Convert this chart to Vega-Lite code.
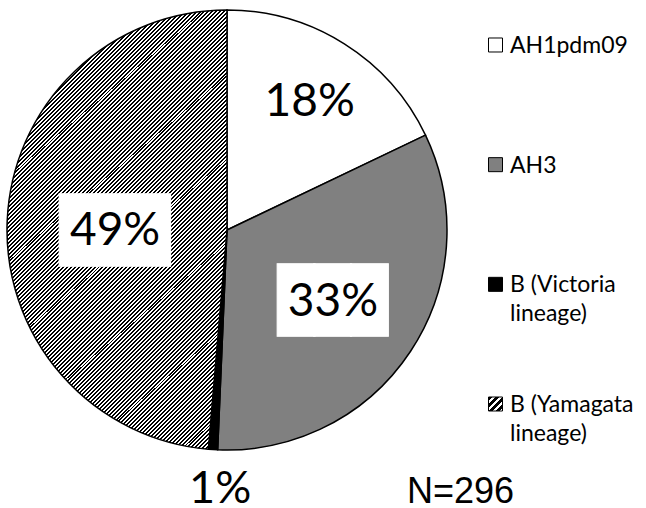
{
"$schema": "https://vega.github.io/schema/vega-lite/v6.json",
"padding": 0,
"background": "white",
"bounds": "flush",
"spacing": 0,
"config": {"view": {"stroke": null}},
"data": {"values": [
{"type": "AH1pdm09", "count": 53, "order": 1, "label": "18%", "legendLabel": "AH1pdm09"},
{"type": "AH3", "count": 97, "order": 2, "label": "33%", "legendLabel": "AH3"},
{"type": "B (Victoria lineage)", "count": 2, "order": 3, "label": "1%", "legendLabel": "B (Victoria\nlineage)"},
{"type": "B (Yamagata lineage)", "count": 144, "order": 4, "label": "49%", "legendLabel": "B (Yamagata\nlineage)"}
]},
"hconcat": [
{
"width": 454,
"height": 460,
"title": {"text": "N=296", "orient": "bottom", "anchor": "start", "frame": "group", "dx": 407, "offset": -9, "baseline": "alphabetic", "font": "Liberation Sans", "fontSize": 36, "fontWeight": "normal", "color": "black"},
"encoding": {
"theta": {"field": "count", "type": "quantitative", "stack": true},
"order": {"field": "order", "type": "quantitative"},
"detail": {"field": "type", "type": "nominal"}
},
"layer": [
{"mark": {"type": "arc", "outerRadius": 220, "stroke": "black", "strokeWidth": 1.5},
"encoding": {"fill": {"condition": [
{"test": "datum.type === 'AH1pdm09'", "value": "white"},
{"test": "datum.type === 'AH3'", "value": "#808080"},
{"test": "datum.type === 'B (Victoria lineage)'", "value": "black"}],
"value": {"gradient": "linear", "x1": 0, "y1": 0, "x2": 0.6, "y2": 1.2, "stops": [
{"offset":0,"color":"#000"},
{"offset":0.003,"color":"#000"},{"offset":0.003,"color":"#fff"},{"offset":0.006,"color":"#fff"},{"offset":0.006,"color":"#000"},{"offset":0.009,"color":"#000"},{"offset":0.009,"color":"#fff"},{"offset":0.012,"color":"#fff"},{"offset":0.012,"color":"#000"},{"offset":0.015,"color":"#000"},{"offset":0.015,"color":"#fff"},{"offset":0.018,"color":"#fff"},{"offset":0.018,"color":"#000"},{"offset":0.021,"color":"#000"},{"offset":0.021,"color":"#fff"},{"offset":0.024,"color":"#fff"},{"offset":0.024,"color":"#000"},{"offset":0.027,"color":"#000"},{"offset":0.027,"color":"#fff"},{"offset":0.030,"color":"#fff"},{"offset":0.030,"color":"#000"},
{"offset":0.033,"color":"#000"},{"offset":0.033,"color":"#fff"},{"offset":0.036,"color":"#fff"},{"offset":0.036,"color":"#000"},{"offset":0.039,"color":"#000"},{"offset":0.039,"color":"#fff"},{"offset":0.042,"color":"#fff"},{"offset":0.042,"color":"#000"},{"offset":0.045,"color":"#000"},{"offset":0.045,"color":"#fff"},{"offset":0.048,"color":"#fff"},{"offset":0.048,"color":"#000"},{"offset":0.051,"color":"#000"},{"offset":0.051,"color":"#fff"},{"offset":0.054,"color":"#fff"},{"offset":0.054,"color":"#000"},{"offset":0.057,"color":"#000"},{"offset":0.057,"color":"#fff"},{"offset":0.060,"color":"#fff"},{"offset":0.060,"color":"#000"},
{"offset":0.063,"color":"#000"},{"offset":0.063,"color":"#fff"},{"offset":0.066,"color":"#fff"},{"offset":0.066,"color":"#000"},{"offset":0.069,"color":"#000"},{"offset":0.069,"color":"#fff"},{"offset":0.072,"color":"#fff"},{"offset":0.072,"color":"#000"},{"offset":0.075,"color":"#000"},{"offset":0.075,"color":"#fff"},{"offset":0.078,"color":"#fff"},{"offset":0.078,"color":"#000"},{"offset":0.081,"color":"#000"},{"offset":0.081,"color":"#fff"},{"offset":0.084,"color":"#fff"},{"offset":0.084,"color":"#000"},{"offset":0.087,"color":"#000"},{"offset":0.087,"color":"#fff"},{"offset":0.090,"color":"#fff"},{"offset":0.090,"color":"#000"},
{"offset":0.093,"color":"#000"},{"offset":0.093,"color":"#fff"},{"offset":0.096,"color":"#fff"},{"offset":0.096,"color":"#000"},{"offset":0.099,"color":"#000"},{"offset":0.099,"color":"#fff"},{"offset":0.102,"color":"#fff"},{"offset":0.102,"color":"#000"},{"offset":0.105,"color":"#000"},{"offset":0.105,"color":"#fff"},{"offset":0.108,"color":"#fff"},{"offset":0.108,"color":"#000"},{"offset":0.111,"color":"#000"},{"offset":0.111,"color":"#fff"},{"offset":0.114,"color":"#fff"},{"offset":0.114,"color":"#000"},{"offset":0.117,"color":"#000"},{"offset":0.117,"color":"#fff"},{"offset":0.120,"color":"#fff"},{"offset":0.120,"color":"#000"},
{"offset":0.123,"color":"#000"},{"offset":0.123,"color":"#fff"},{"offset":0.126,"color":"#fff"},{"offset":0.126,"color":"#000"},{"offset":0.129,"color":"#000"},{"offset":0.129,"color":"#fff"},{"offset":0.132,"color":"#fff"},{"offset":0.132,"color":"#000"},{"offset":0.135,"color":"#000"},{"offset":0.135,"color":"#fff"},{"offset":0.138,"color":"#fff"},{"offset":0.138,"color":"#000"},{"offset":0.141,"color":"#000"},{"offset":0.141,"color":"#fff"},{"offset":0.144,"color":"#fff"},{"offset":0.144,"color":"#000"},{"offset":0.147,"color":"#000"},{"offset":0.147,"color":"#fff"},{"offset":0.150,"color":"#fff"},{"offset":0.150,"color":"#000"},
{"offset":0.153,"color":"#000"},{"offset":0.153,"color":"#fff"},{"offset":0.156,"color":"#fff"},{"offset":0.156,"color":"#000"},{"offset":0.159,"color":"#000"},{"offset":0.159,"color":"#fff"},{"offset":0.162,"color":"#fff"},{"offset":0.162,"color":"#000"},{"offset":0.165,"color":"#000"},{"offset":0.165,"color":"#fff"},{"offset":0.168,"color":"#fff"},{"offset":0.168,"color":"#000"},{"offset":0.171,"color":"#000"},{"offset":0.171,"color":"#fff"},{"offset":0.174,"color":"#fff"},{"offset":0.174,"color":"#000"},{"offset":0.177,"color":"#000"},{"offset":0.177,"color":"#fff"},{"offset":0.180,"color":"#fff"},{"offset":0.180,"color":"#000"},
{"offset":0.183,"color":"#000"},{"offset":0.183,"color":"#fff"},{"offset":0.186,"color":"#fff"},{"offset":0.186,"color":"#000"},{"offset":0.189,"color":"#000"},{"offset":0.189,"color":"#fff"},{"offset":0.192,"color":"#fff"},{"offset":0.192,"color":"#000"},{"offset":0.195,"color":"#000"},{"offset":0.195,"color":"#fff"},{"offset":0.198,"color":"#fff"},{"offset":0.198,"color":"#000"},{"offset":0.201,"color":"#000"},{"offset":0.201,"color":"#fff"},{"offset":0.204,"color":"#fff"},{"offset":0.204,"color":"#000"},{"offset":0.207,"color":"#000"},{"offset":0.207,"color":"#fff"},{"offset":0.210,"color":"#fff"},{"offset":0.210,"color":"#000"},
{"offset":0.213,"color":"#000"},{"offset":0.213,"color":"#fff"},{"offset":0.216,"color":"#fff"},{"offset":0.216,"color":"#000"},{"offset":0.219,"color":"#000"},{"offset":0.219,"color":"#fff"},{"offset":0.222,"color":"#fff"},{"offset":0.222,"color":"#000"},{"offset":0.225,"color":"#000"},{"offset":0.225,"color":"#fff"},{"offset":0.228,"color":"#fff"},{"offset":0.228,"color":"#000"},{"offset":0.231,"color":"#000"},{"offset":0.231,"color":"#fff"},{"offset":0.234,"color":"#fff"},{"offset":0.234,"color":"#000"},{"offset":0.237,"color":"#000"},{"offset":0.237,"color":"#fff"},{"offset":0.240,"color":"#fff"},{"offset":0.240,"color":"#000"},
{"offset":0.243,"color":"#000"},{"offset":0.243,"color":"#fff"},{"offset":0.246,"color":"#fff"},{"offset":0.246,"color":"#000"},{"offset":0.249,"color":"#000"},{"offset":0.249,"color":"#fff"},{"offset":0.252,"color":"#fff"},{"offset":0.252,"color":"#000"},{"offset":0.255,"color":"#000"},{"offset":0.255,"color":"#fff"},{"offset":0.258,"color":"#fff"},{"offset":0.258,"color":"#000"},{"offset":0.261,"color":"#000"},{"offset":0.261,"color":"#fff"},{"offset":0.264,"color":"#fff"},{"offset":0.264,"color":"#000"},{"offset":0.267,"color":"#000"},{"offset":0.267,"color":"#fff"},{"offset":0.270,"color":"#fff"},{"offset":0.270,"color":"#000"},
{"offset":0.273,"color":"#000"},{"offset":0.273,"color":"#fff"},{"offset":0.276,"color":"#fff"},{"offset":0.276,"color":"#000"},{"offset":0.279,"color":"#000"},{"offset":0.279,"color":"#fff"},{"offset":0.282,"color":"#fff"},{"offset":0.282,"color":"#000"},{"offset":0.285,"color":"#000"},{"offset":0.285,"color":"#fff"},{"offset":0.288,"color":"#fff"},{"offset":0.288,"color":"#000"},{"offset":0.291,"color":"#000"},{"offset":0.291,"color":"#fff"},{"offset":0.294,"color":"#fff"},{"offset":0.294,"color":"#000"},{"offset":0.297,"color":"#000"},{"offset":0.297,"color":"#fff"},{"offset":0.300,"color":"#fff"},{"offset":0.300,"color":"#000"},
{"offset":0.303,"color":"#000"},{"offset":0.303,"color":"#fff"},{"offset":0.306,"color":"#fff"},{"offset":0.306,"color":"#000"},{"offset":0.309,"color":"#000"},{"offset":0.309,"color":"#fff"},{"offset":0.312,"color":"#fff"},{"offset":0.312,"color":"#000"},{"offset":0.315,"color":"#000"},{"offset":0.315,"color":"#fff"},{"offset":0.318,"color":"#fff"},{"offset":0.318,"color":"#000"},{"offset":0.321,"color":"#000"},{"offset":0.321,"color":"#fff"},{"offset":0.324,"color":"#fff"},{"offset":0.324,"color":"#000"},{"offset":0.327,"color":"#000"},{"offset":0.327,"color":"#fff"},{"offset":0.330,"color":"#fff"},{"offset":0.330,"color":"#000"},
{"offset":0.333,"color":"#000"},{"offset":0.333,"color":"#fff"},{"offset":0.336,"color":"#fff"},{"offset":0.336,"color":"#000"},{"offset":0.339,"color":"#000"},{"offset":0.339,"color":"#fff"},{"offset":0.342,"color":"#fff"},{"offset":0.342,"color":"#000"},{"offset":0.345,"color":"#000"},{"offset":0.345,"color":"#fff"},{"offset":0.348,"color":"#fff"},{"offset":0.348,"color":"#000"},{"offset":0.351,"color":"#000"},{"offset":0.351,"color":"#fff"},{"offset":0.354,"color":"#fff"},{"offset":0.354,"color":"#000"},{"offset":0.357,"color":"#000"},{"offset":0.357,"color":"#fff"},{"offset":0.360,"color":"#fff"},{"offset":0.360,"color":"#000"},
{"offset":0.363,"color":"#000"},{"offset":0.363,"color":"#fff"},{"offset":0.366,"color":"#fff"},{"offset":0.366,"color":"#000"},{"offset":0.369,"color":"#000"},{"offset":0.369,"color":"#fff"},{"offset":0.372,"color":"#fff"},{"offset":0.372,"color":"#000"},{"offset":0.375,"color":"#000"},{"offset":0.375,"color":"#fff"},{"offset":0.378,"color":"#fff"},{"offset":0.378,"color":"#000"},{"offset":0.381,"color":"#000"},{"offset":0.381,"color":"#fff"},{"offset":0.384,"color":"#fff"},{"offset":0.384,"color":"#000"},{"offset":0.387,"color":"#000"},{"offset":0.387,"color":"#fff"},{"offset":0.390,"color":"#fff"},{"offset":0.390,"color":"#000"},
{"offset":0.393,"color":"#000"},{"offset":0.393,"color":"#fff"},{"offset":0.396,"color":"#fff"},{"offset":0.396,"color":"#000"},{"offset":0.399,"color":"#000"},{"offset":0.399,"color":"#fff"},{"offset":0.402,"color":"#fff"},{"offset":0.402,"color":"#000"},{"offset":0.405,"color":"#000"},{"offset":0.405,"color":"#fff"},{"offset":0.408,"color":"#fff"},{"offset":0.408,"color":"#000"},{"offset":0.411,"color":"#000"},{"offset":0.411,"color":"#fff"},{"offset":0.414,"color":"#fff"},{"offset":0.414,"color":"#000"},{"offset":0.417,"color":"#000"},{"offset":0.417,"color":"#fff"},{"offset":0.420,"color":"#fff"},{"offset":0.420,"color":"#000"},
{"offset":0.423,"color":"#000"},{"offset":0.423,"color":"#fff"},{"offset":0.426,"color":"#fff"},{"offset":0.426,"color":"#000"},{"offset":0.429,"color":"#000"},{"offset":0.429,"color":"#fff"},{"offset":0.432,"color":"#fff"},{"offset":0.432,"color":"#000"},{"offset":0.435,"color":"#000"},{"offset":0.435,"color":"#fff"},{"offset":0.438,"color":"#fff"},{"offset":0.438,"color":"#000"},{"offset":0.441,"color":"#000"},{"offset":0.441,"color":"#fff"},{"offset":0.444,"color":"#fff"},{"offset":0.444,"color":"#000"},{"offset":0.447,"color":"#000"},{"offset":0.447,"color":"#fff"},{"offset":0.450,"color":"#fff"},{"offset":0.450,"color":"#000"},
{"offset":0.453,"color":"#000"},{"offset":0.453,"color":"#fff"},{"offset":0.456,"color":"#fff"},{"offset":0.456,"color":"#000"},{"offset":0.459,"color":"#000"},{"offset":0.459,"color":"#fff"},{"offset":0.462,"color":"#fff"},{"offset":0.462,"color":"#000"},{"offset":0.465,"color":"#000"},{"offset":0.465,"color":"#fff"},{"offset":0.468,"color":"#fff"},{"offset":0.468,"color":"#000"},{"offset":0.471,"color":"#000"},{"offset":0.471,"color":"#fff"},{"offset":0.474,"color":"#fff"},{"offset":0.474,"color":"#000"},{"offset":0.477,"color":"#000"},{"offset":0.477,"color":"#fff"},{"offset":0.480,"color":"#fff"},{"offset":0.480,"color":"#000"},
{"offset":0.483,"color":"#000"},{"offset":0.483,"color":"#fff"},{"offset":0.486,"color":"#fff"},{"offset":0.486,"color":"#000"},{"offset":0.489,"color":"#000"},{"offset":0.489,"color":"#fff"},{"offset":0.492,"color":"#fff"},{"offset":0.492,"color":"#000"},{"offset":0.495,"color":"#000"},{"offset":0.495,"color":"#fff"},{"offset":0.498,"color":"#fff"},{"offset":0.498,"color":"#000"},{"offset":0.501,"color":"#000"},{"offset":0.501,"color":"#fff"},{"offset":0.504,"color":"#fff"},{"offset":0.504,"color":"#000"},{"offset":0.507,"color":"#000"},{"offset":0.507,"color":"#fff"},{"offset":0.510,"color":"#fff"},{"offset":0.510,"color":"#000"},
{"offset":0.513,"color":"#000"},{"offset":0.513,"color":"#fff"},{"offset":0.516,"color":"#fff"},{"offset":0.516,"color":"#000"},{"offset":0.519,"color":"#000"},{"offset":0.519,"color":"#fff"},{"offset":0.522,"color":"#fff"},{"offset":0.522,"color":"#000"},{"offset":0.525,"color":"#000"},{"offset":0.525,"color":"#fff"},{"offset":0.528,"color":"#fff"},{"offset":0.528,"color":"#000"},{"offset":0.531,"color":"#000"},{"offset":0.531,"color":"#fff"},{"offset":0.534,"color":"#fff"},{"offset":0.534,"color":"#000"},{"offset":0.537,"color":"#000"},{"offset":0.537,"color":"#fff"},{"offset":0.540,"color":"#fff"},{"offset":0.540,"color":"#000"},
{"offset":0.543,"color":"#000"},{"offset":0.543,"color":"#fff"},{"offset":0.546,"color":"#fff"},{"offset":0.546,"color":"#000"},{"offset":0.549,"color":"#000"},{"offset":0.549,"color":"#fff"},{"offset":0.552,"color":"#fff"},{"offset":0.552,"color":"#000"},{"offset":0.555,"color":"#000"},{"offset":0.555,"color":"#fff"},{"offset":0.558,"color":"#fff"},{"offset":0.558,"color":"#000"},{"offset":0.561,"color":"#000"},{"offset":0.561,"color":"#fff"},{"offset":0.564,"color":"#fff"},{"offset":0.564,"color":"#000"},{"offset":0.567,"color":"#000"},{"offset":0.567,"color":"#fff"},{"offset":0.570,"color":"#fff"},{"offset":0.570,"color":"#000"},
{"offset":0.573,"color":"#000"},{"offset":0.573,"color":"#fff"},{"offset":0.576,"color":"#fff"},{"offset":0.576,"color":"#000"},{"offset":0.579,"color":"#000"},{"offset":0.579,"color":"#fff"},{"offset":0.582,"color":"#fff"},{"offset":0.582,"color":"#000"},{"offset":0.585,"color":"#000"},{"offset":0.585,"color":"#fff"},{"offset":0.588,"color":"#fff"},{"offset":0.588,"color":"#000"},{"offset":0.591,"color":"#000"},{"offset":0.591,"color":"#fff"},{"offset":0.594,"color":"#fff"},{"offset":0.594,"color":"#000"},{"offset":0.597,"color":"#000"},{"offset":0.597,"color":"#fff"},{"offset":0.600,"color":"#fff"},{"offset":0.600,"color":"#000"},
{"offset":0.603,"color":"#000"},{"offset":0.603,"color":"#fff"},{"offset":0.606,"color":"#fff"},{"offset":0.606,"color":"#000"},{"offset":0.609,"color":"#000"},{"offset":0.609,"color":"#fff"},{"offset":0.612,"color":"#fff"},{"offset":0.612,"color":"#000"},{"offset":0.615,"color":"#000"},{"offset":0.615,"color":"#fff"},{"offset":0.618,"color":"#fff"},{"offset":0.618,"color":"#000"},{"offset":0.621,"color":"#000"},{"offset":0.621,"color":"#fff"},{"offset":0.624,"color":"#fff"},{"offset":0.624,"color":"#000"},{"offset":0.627,"color":"#000"},{"offset":0.627,"color":"#fff"},{"offset":0.630,"color":"#fff"},{"offset":0.630,"color":"#000"},
{"offset":0.633,"color":"#000"},{"offset":0.633,"color":"#fff"},{"offset":0.636,"color":"#fff"},{"offset":0.636,"color":"#000"},{"offset":0.639,"color":"#000"},{"offset":0.639,"color":"#fff"},{"offset":0.642,"color":"#fff"},{"offset":0.642,"color":"#000"},{"offset":0.645,"color":"#000"},{"offset":0.645,"color":"#fff"},{"offset":0.648,"color":"#fff"},{"offset":0.648,"color":"#000"},{"offset":0.651,"color":"#000"},{"offset":0.651,"color":"#fff"},{"offset":0.654,"color":"#fff"},{"offset":0.654,"color":"#000"},{"offset":0.657,"color":"#000"},{"offset":0.657,"color":"#fff"},{"offset":0.660,"color":"#fff"},{"offset":0.660,"color":"#000"},
{"offset":0.663,"color":"#000"},{"offset":0.663,"color":"#fff"},{"offset":0.666,"color":"#fff"},{"offset":0.666,"color":"#000"},{"offset":0.669,"color":"#000"},{"offset":0.669,"color":"#fff"},{"offset":0.672,"color":"#fff"},{"offset":0.672,"color":"#000"},{"offset":0.675,"color":"#000"},{"offset":0.675,"color":"#fff"},{"offset":0.678,"color":"#fff"},{"offset":0.678,"color":"#000"},{"offset":0.681,"color":"#000"},{"offset":0.681,"color":"#fff"},{"offset":0.684,"color":"#fff"},{"offset":0.684,"color":"#000"},{"offset":0.687,"color":"#000"},{"offset":0.687,"color":"#fff"},{"offset":0.690,"color":"#fff"},{"offset":0.690,"color":"#000"},
{"offset":0.693,"color":"#000"},{"offset":0.693,"color":"#fff"},{"offset":0.696,"color":"#fff"},{"offset":0.696,"color":"#000"},{"offset":0.699,"color":"#000"},{"offset":0.699,"color":"#fff"},{"offset":0.702,"color":"#fff"},{"offset":0.702,"color":"#000"},{"offset":0.705,"color":"#000"},{"offset":0.705,"color":"#fff"},{"offset":0.708,"color":"#fff"},{"offset":0.708,"color":"#000"},{"offset":0.711,"color":"#000"},{"offset":0.711,"color":"#fff"},{"offset":0.714,"color":"#fff"},{"offset":0.714,"color":"#000"},{"offset":0.717,"color":"#000"},{"offset":0.717,"color":"#fff"},{"offset":0.720,"color":"#fff"},{"offset":0.720,"color":"#000"},
{"offset":0.723,"color":"#000"},{"offset":0.723,"color":"#fff"},{"offset":0.726,"color":"#fff"},{"offset":0.726,"color":"#000"},{"offset":0.729,"color":"#000"},{"offset":0.729,"color":"#fff"},{"offset":0.732,"color":"#fff"},{"offset":0.732,"color":"#000"},{"offset":0.735,"color":"#000"},{"offset":0.735,"color":"#fff"},{"offset":0.738,"color":"#fff"},{"offset":0.738,"color":"#000"},{"offset":0.741,"color":"#000"},{"offset":0.741,"color":"#fff"},{"offset":0.744,"color":"#fff"},{"offset":0.744,"color":"#000"},{"offset":0.747,"color":"#000"},{"offset":0.747,"color":"#fff"},{"offset":0.750,"color":"#fff"},{"offset":0.750,"color":"#000"},
{"offset":0.753,"color":"#000"},{"offset":0.753,"color":"#fff"},{"offset":0.756,"color":"#fff"},{"offset":0.756,"color":"#000"},{"offset":0.759,"color":"#000"},{"offset":0.759,"color":"#fff"},{"offset":0.762,"color":"#fff"},{"offset":0.762,"color":"#000"},{"offset":0.765,"color":"#000"},{"offset":0.765,"color":"#fff"},{"offset":0.768,"color":"#fff"},{"offset":0.768,"color":"#000"},{"offset":0.771,"color":"#000"},{"offset":0.771,"color":"#fff"},{"offset":0.774,"color":"#fff"},{"offset":0.774,"color":"#000"},{"offset":0.777,"color":"#000"},{"offset":0.777,"color":"#fff"},{"offset":0.780,"color":"#fff"},{"offset":0.780,"color":"#000"},
{"offset":0.783,"color":"#000"},{"offset":0.783,"color":"#fff"},{"offset":0.786,"color":"#fff"},{"offset":0.786,"color":"#000"},{"offset":0.789,"color":"#000"},{"offset":0.789,"color":"#fff"},{"offset":0.792,"color":"#fff"},{"offset":0.792,"color":"#000"},{"offset":0.795,"color":"#000"},{"offset":0.795,"color":"#fff"},{"offset":0.798,"color":"#fff"},{"offset":0.798,"color":"#000"},{"offset":0.801,"color":"#000"},{"offset":0.801,"color":"#fff"},{"offset":0.804,"color":"#fff"},{"offset":0.804,"color":"#000"},{"offset":0.807,"color":"#000"},{"offset":0.807,"color":"#fff"},{"offset":0.810,"color":"#fff"},{"offset":0.810,"color":"#000"},
{"offset":0.813,"color":"#000"},{"offset":0.813,"color":"#fff"},{"offset":0.816,"color":"#fff"},{"offset":0.816,"color":"#000"},{"offset":0.819,"color":"#000"},{"offset":0.819,"color":"#fff"},{"offset":0.822,"color":"#fff"},{"offset":0.822,"color":"#000"},{"offset":0.825,"color":"#000"},{"offset":0.825,"color":"#fff"},{"offset":0.828,"color":"#fff"},{"offset":0.828,"color":"#000"},{"offset":0.831,"color":"#000"},{"offset":0.831,"color":"#fff"},{"offset":0.834,"color":"#fff"},{"offset":0.834,"color":"#000"},{"offset":0.837,"color":"#000"},{"offset":0.837,"color":"#fff"},{"offset":0.840,"color":"#fff"},{"offset":0.840,"color":"#000"},
{"offset":0.843,"color":"#000"},{"offset":0.843,"color":"#fff"},{"offset":0.846,"color":"#fff"},{"offset":0.846,"color":"#000"},{"offset":0.849,"color":"#000"},{"offset":0.849,"color":"#fff"},{"offset":0.852,"color":"#fff"},{"offset":0.852,"color":"#000"},{"offset":0.855,"color":"#000"},{"offset":0.855,"color":"#fff"},{"offset":0.858,"color":"#fff"},{"offset":0.858,"color":"#000"},{"offset":0.861,"color":"#000"},{"offset":0.861,"color":"#fff"},{"offset":0.864,"color":"#fff"},{"offset":0.864,"color":"#000"},{"offset":0.867,"color":"#000"},{"offset":0.867,"color":"#fff"},{"offset":0.870,"color":"#fff"},{"offset":0.870,"color":"#000"},
{"offset":0.873,"color":"#000"},{"offset":0.873,"color":"#fff"},{"offset":0.876,"color":"#fff"},{"offset":0.876,"color":"#000"},{"offset":0.879,"color":"#000"},{"offset":0.879,"color":"#fff"},{"offset":0.882,"color":"#fff"},{"offset":0.882,"color":"#000"},{"offset":0.885,"color":"#000"},{"offset":0.885,"color":"#fff"},{"offset":0.888,"color":"#fff"},{"offset":0.888,"color":"#000"},{"offset":0.891,"color":"#000"},{"offset":0.891,"color":"#fff"},{"offset":0.894,"color":"#fff"},{"offset":0.894,"color":"#000"},{"offset":0.897,"color":"#000"},{"offset":0.897,"color":"#fff"},{"offset":0.900,"color":"#fff"},{"offset":0.900,"color":"#000"},
{"offset":0.903,"color":"#000"},{"offset":0.903,"color":"#fff"},{"offset":0.906,"color":"#fff"},{"offset":0.906,"color":"#000"},{"offset":0.909,"color":"#000"},{"offset":0.909,"color":"#fff"},{"offset":0.912,"color":"#fff"},{"offset":0.912,"color":"#000"},{"offset":0.915,"color":"#000"},{"offset":0.915,"color":"#fff"},{"offset":0.918,"color":"#fff"},{"offset":0.918,"color":"#000"},{"offset":0.921,"color":"#000"},{"offset":0.921,"color":"#fff"},{"offset":0.924,"color":"#fff"},{"offset":0.924,"color":"#000"},{"offset":0.927,"color":"#000"},{"offset":0.927,"color":"#fff"},{"offset":0.930,"color":"#fff"},{"offset":0.930,"color":"#000"},
{"offset":0.933,"color":"#000"},{"offset":0.933,"color":"#fff"},{"offset":0.936,"color":"#fff"},{"offset":0.936,"color":"#000"},{"offset":0.939,"color":"#000"},{"offset":0.939,"color":"#fff"},{"offset":0.942,"color":"#fff"},{"offset":0.942,"color":"#000"},{"offset":0.945,"color":"#000"},{"offset":0.945,"color":"#fff"},{"offset":0.948,"color":"#fff"},{"offset":0.948,"color":"#000"},{"offset":0.951,"color":"#000"},{"offset":0.951,"color":"#fff"},{"offset":0.954,"color":"#fff"},{"offset":0.954,"color":"#000"},{"offset":0.957,"color":"#000"},{"offset":0.957,"color":"#fff"},{"offset":0.960,"color":"#fff"},{"offset":0.960,"color":"#000"},
{"offset":0.963,"color":"#000"},{"offset":0.963,"color":"#fff"},{"offset":0.966,"color":"#fff"},{"offset":0.966,"color":"#000"},{"offset":0.969,"color":"#000"},{"offset":0.969,"color":"#fff"},{"offset":0.972,"color":"#fff"},{"offset":0.972,"color":"#000"},{"offset":0.975,"color":"#000"},{"offset":0.975,"color":"#fff"},{"offset":0.978,"color":"#fff"},{"offset":0.978,"color":"#000"},{"offset":0.981,"color":"#000"},{"offset":0.981,"color":"#fff"},{"offset":0.984,"color":"#fff"},{"offset":0.984,"color":"#000"},{"offset":0.987,"color":"#000"},{"offset":0.987,"color":"#fff"},{"offset":0.990,"color":"#fff"},{"offset":0.990,"color":"#000"},
{"offset":0.993,"color":"#000"},{"offset":0.993,"color":"#fff"},{"offset":0.996,"color":"#fff"},{"offset":0.996,"color":"#000"},{"offset":0.999,"color":"#000"},{"offset":0.999,"color":"#fff"},
{"offset":1,"color":"#fff"}
]}}}},
{"mark": {"type": "text", "radius": 127, "font": "DejaVu Sans Mono", "fontSize": 61, "fill": "white", "stroke": "white", "strokeWidth": 1, "dy": 3},
"encoding": {"text": {"condition": {"test": "datum.type === 'AH3'", "value": "███"}, "value": ""}}},
{"mark": {"type": "text", "radius": 112, "font": "DejaVu Sans Mono", "fontSize": 61, "fill": "white", "stroke": "white", "strokeWidth": 1, "dy": 8},
"encoding": {"text": {"condition": {"test": "datum.type === 'B (Yamagata lineage)'", "value": "███"}, "value": ""}}},
{"mark": {"type": "text", "radius": 155, "font": "Lato", "fontSize": 46, "color": "black", "dy": 3},
"encoding": {"text": {"condition": {"test": "datum.type === 'AH1pdm09'", "field": "label", "type": "nominal"}, "value": ""}}},
{"mark": {"type": "text", "radius": 127, "font": "Lato", "fontSize": 46, "color": "black", "dy": 2},
"encoding": {"text": {"condition": {"test": "datum.type === 'AH3'", "field": "label", "type": "nominal"}, "value": ""}}},
{"mark": {"type": "text", "radius": 112, "font": "Lato", "fontSize": 46, "color": "black", "dy": 6},
"encoding": {"text": {"condition": {"test": "datum.type === 'B (Yamagata lineage)'", "field": "label", "type": "nominal"}, "value": ""}}},
{"transform": [
{"stack": "count", "groupby": [], "sort": [{"field": "order", "order": "ascending"}], "as": ["s0", "s1"]},
{"filter": "datum.type === 'B (Victoria lineage)'"}],
"mark": {"type": "text", "radius": 256, "font": "Lato", "fontSize": 45, "color": "black", "dx": 4, "dy": 3},
"encoding": {"theta": {"field": "s0", "type": "quantitative", "stack": null}, "text": {"field": "label", "type": "nominal"}}}
]
},
{
"width": 83,
"height": 449,
"encoding": {
"y": {"field": "type", "type": "nominal", "sort": ["AH1pdm09", "AH3", "B (Victoria lineage)", "B (Yamagata lineage)"], "scale": {"type": "point", "padding": 0.376}, "axis": null}
},
"layer": [
{"mark": {"type": "point", "shape": "square", "size": 196, "filled": true, "stroke": "black", "strokeWidth": 1, "opacity": 1},
"encoding": {"fill": {"condition": [
{"test": "datum.type === 'AH1pdm09'", "value": "white"},
{"test": "datum.type === 'AH3'", "value": "#808080"},
{"test": "datum.type === 'B (Victoria lineage)'", "value": "black"}],
"value": {"gradient": "linear", "x1": 0, "y1": 0, "x2": 1, "y2": 1, "stops": [
{"offset":0,"color":"#000"},{"offset":0.125,"color":"#000"},{"offset":0.125,"color":"#fff"},{"offset":0.25,"color":"#fff"},{"offset":0.25,"color":"#000"},{"offset":0.375,"color":"#000"},{"offset":0.375,"color":"#fff"},{"offset":0.5,"color":"#fff"},{"offset":0.5,"color":"#000"},{"offset":0.625,"color":"#000"},{"offset":0.625,"color":"#fff"},{"offset":0.75,"color":"#fff"},{"offset":0.75,"color":"#000"},{"offset":0.875,"color":"#000"},{"offset":0.875,"color":"#fff"},{"offset":1,"color":"#fff"}]}}}},
{"mark": {"type": "text", "align": "left", "baseline": "top", "dx": 14.5, "dy": -10, "font": "Lato", "fontSize": 23, "lineBreak": "\n", "lineHeight": 29, "color": "black"},
"encoding": {"text": {"field": "legendLabel", "type": "nominal"}}}
]
}
]
}
